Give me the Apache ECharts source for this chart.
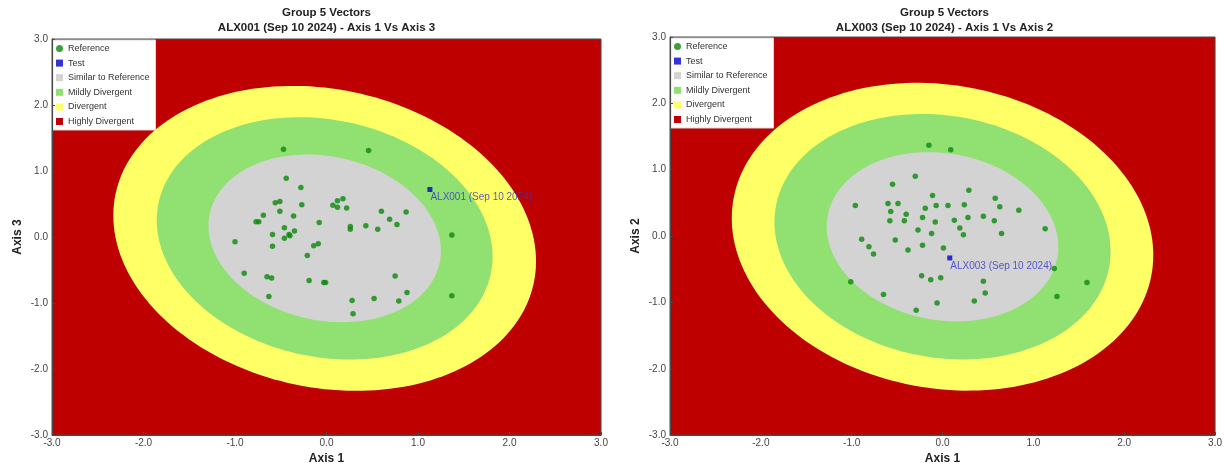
<!DOCTYPE html>
<html><head><meta charset="utf-8">
<script src="https://cdn.jsdelivr.net/npm/echarts@6/dist/echarts.min.js"></script>
<style>html,body{margin:0;padding:0;background:#fff;overflow:hidden}#c{width:1225px;height:470px}</style>
</head><body><div id="c"></div>
<script>
// ---- data ----
const tickValues = [-3, -2, -1, 0, 1, 2, 3];
const zoneNames = ['Similar to Reference', 'Mildly Divergent', 'Divergent', 'Highly Divergent'];

const leftTitle = ['Group 5 Vectors', 'ALX001 (Sep 10 2024) - Axis 1 Vs Axis 3'];
const leftAxisNames = ['Axis 1', 'Axis 3'];
const leftRefAxis1 = [-0.47, 0.46, -0.44, -0.28, -0.56, -0.51, -0.51, -0.27, -0.69, -0.36, -0.77, -0.74, -0.08, -0.46, -0.35, -0.41, -0.40, -0.59, -0.46, -1.00, -0.59, -0.09, -0.14, -0.21, -0.90, -0.65, -0.60, -0.19, -0.03, -0.01, -0.63, 0.12, 0.18, 0.07, 0.12, 0.22, 0.60, 0.87, 0.69, 0.77, 0.26, 0.26, 0.43, 0.56, 1.37, 0.75, 0.88, 0.79, 0.52, 0.28, 0.29, 1.37];
const leftRefAxis3 = [1.33, 1.31, 0.89, 0.75, 0.52, 0.54, 0.39, 0.49, 0.33, 0.32, 0.23, 0.23, 0.22, 0.14, 0.09, 0.04, 0.02, 0.04, -0.02, -0.07, -0.14, -0.10, -0.13, -0.28, -0.55, -0.60, -0.62, -0.66, -0.69, -0.69, -0.90, 0.55, 0.58, 0.48, 0.45, 0.44, 0.39, 0.38, 0.27, 0.19, 0.16, 0.12, 0.17, 0.12, 0.03, -0.59, -0.84, -0.97, -0.93, -0.96, -1.16, -0.89];
const leftTestPoint = [1.13, 0.72];
const leftTestName = 'ALX001 (Sep 10 2024)';
const leftZoneRadii = [1.27, 1.835, 2.31];
const leftZoneCenter = [-0.02, -0.02];
const leftZoneCorr = -0.15;

const rightTitle = ['Group 5 Vectors', 'ALX003 (Sep 10 2024) - Axis 1 Vs Axis 2'];
const rightAxisNames = ['Axis 1', 'Axis 2'];
const rightRefAxis1 = [-0.15, 0.09, -0.30, -0.55, -0.11, 0.29, -0.96, -0.60, -0.49, -0.57, -0.40, -0.19, -0.07, 0.06, 0.24, 0.58, 0.63, 0.84, -0.58, -0.42, -0.22, -0.08, 0.13, 0.28, 0.45, 0.57, -0.27, -0.12, 0.19, 0.23, 0.65, 1.13, -0.89, -0.52, -0.81, -0.76, -0.38, -0.22, 0.01, 1.23, -0.23, -0.13, -0.02, 0.45, -1.01, -0.65, -0.06, -0.29, 0.47, 0.35, 1.59, 1.26];
const rightRefAxis2 = [1.37, 1.30, 0.90, 0.78, 0.61, 0.69, 0.46, 0.49, 0.49, 0.37, 0.33, 0.42, 0.46, 0.46, 0.47, 0.57, 0.44, 0.39, 0.23, 0.23, 0.28, 0.21, 0.24, 0.28, 0.30, 0.23, 0.09, 0.04, 0.12, 0.02, 0.04, 0.11, -0.05, -0.06, -0.16, -0.27, -0.21, -0.14, -0.18, -0.49, -0.60, -0.66, -0.63, -0.68, -0.69, -0.88, -1.01, -1.12, -0.86, -0.98, -0.70, -0.91];
const rightTestPoint = [0.08, -0.33];
const rightTestName = 'ALX003 (Sep 10 2024)';
const rightZoneRadii = [1.275, 1.85, 2.32];
const rightZoneCenter = [0, -0.01];
const rightZoneCorr = -0.12;

// ---- styles ----
const FONT = '"Liberation Sans", Arial, sans-serif';
const COLORS = {
  ref: '#0a8a0a', test: '#0000cc',
  'Similar to Reference': '#d3d3d3', 'Mildly Divergent': '#90e072',
  'Divergent': '#ffff66', 'Highly Divergent': '#be0000'
};

function ellipseRender(params, api) {
  const r = api.value(0), cx = api.value(1), cy = api.value(2), rho = api.value(3);
  const s = Math.sqrt(1 - rho * rho);
  const pts = [];
  for (let i = 0; i < 180; i++) {
    const t = i / 180 * Math.PI * 2;
    pts.push(api.coord([cx + r * Math.cos(t), cy + r * (rho * Math.cos(t) + s * Math.sin(t))]));
  }
  return { type: 'polygon', shape: { points: pts }, style: { fill: api.visual('color') } };
}
function rectRender(params, api) {
  const p0 = api.coord([tickValues[0], tickValues[tickValues.length - 1]]);
  const p1 = api.coord([tickValues[tickValues.length - 1], tickValues[0]]);
  return { type: 'rect', shape: { x: p0[0], y: p0[1], width: p1[0] - p0[0], height: p1[1] - p0[1] },
    style: { fill: api.visual('color'), stroke: '#4a4a4a', lineWidth: 1 } };
}

const grids = [
  { left: 52, top: 39, width: 549, height: 398 },
  { left: 670, top: 37, width: 549, height: 399 }
];
const panels = [
  { title: leftTitle, names: leftAxisNames, xs: leftRefAxis1, ys: leftRefAxis3, test: leftTestPoint, testName: leftTestName,
    radii: leftZoneRadii, center: leftZoneCenter, corr: leftZoneCorr },
  { title: rightTitle, names: rightAxisNames, xs: rightRefAxis1, ys: rightRefAxis2, test: rightTestPoint, testName: rightTestName,
    radii: rightZoneRadii, center: rightZoneCenter, corr: rightZoneCorr }
];

const option = { animation: false, textStyle: { fontFamily: FONT }, title: [], grid: [], xAxis: [], yAxis: [], legend: [], series: [] };

panels.forEach((p, i) => {
  const g = grids[i];
  option.grid.push(Object.assign({ containLabel: false }, g));
  option.title.push({
    text: p.title.join('\n'), left: g.left + g.width / 2, textAlign: 'center', top: 5, padding: 0,
    textStyle: { fontSize: 11.5, fontWeight: 'bold', color: '#222', lineHeight: 15, fontFamily: FONT }
  });
  const axisCommon = {
    gridIndex: i, type: 'value', min: tickValues[0], max: tickValues[tickValues.length - 1], interval: 1, z: 10,
    splitLine: { show: false },
    axisLine: { show: true, onZero: false, lineStyle: { color: '#4a4a4a', width: 1 } },
    axisTick: { show: true, inside: true, length: 3, lineStyle: { color: '#4a4a4a' } },
    axisLabel: { formatter: v => v.toFixed(1), fontSize: 10, color: '#444', fontFamily: FONT },
    nameLocation: 'middle',
    nameTextStyle: { fontSize: 12, fontWeight: 'bold', color: '#222', fontFamily: FONT }
  };
  option.xAxis.push(Object.assign({}, axisCommon, { name: p.names[0], nameGap: 16, position: 'bottom',
    axisLabel: Object.assign({}, axisCommon.axisLabel, { margin: 3 }) }));
  option.yAxis.push(Object.assign({}, axisCommon, { name: p.names[1], nameGap: 28, position: 'left',
    axisLabel: Object.assign({}, axisCommon.axisLabel, { margin: 4 }) }));

  const legendItems = [
    { name: 'Reference', icon: 'circle', itemStyle: { color: COLORS.ref } },
    { name: 'Test', icon: 'rect', itemStyle: { color: COLORS.test } }
  ].concat(zoneNames.map(n => ({ name: n, icon: 'rect', itemStyle: { color: COLORS[n] } })));
  option.legend.push({
    data: legendItems, orient: 'vertical', left: g.left + 1, top: g.top + 1,
    backgroundColor: '#fff', borderColor: '#d8d8d8', borderWidth: 1, padding: [3, 6, 3, 3],
    itemWidth: 7, itemHeight: 7, itemGap: 3.6, selectedMode: false,
    textStyle: { fontSize: 9, color: '#333', lineHeight: 11, fontFamily: FONT }
  });

  // zones: outermost first
  option.series.push({ name: 'Highly Divergent', type: 'custom', xAxisIndex: i, yAxisIndex: i, silent: true,
    itemStyle: { color: COLORS['Highly Divergent'] }, renderItem: rectRender, data: [[0, 0]] });
  [2, 1, 0].forEach(k => {
    option.series.push({ name: zoneNames[k], type: 'custom', xAxisIndex: i, yAxisIndex: i, silent: true,
      itemStyle: { color: COLORS[zoneNames[k]] }, renderItem: ellipseRender,
      encode: { x: 1, y: 2 },
      data: [[p.radii[k], p.center[0], p.center[1], p.corr]] });
  });
  option.series.push({ name: 'Reference', type: 'scatter', xAxisIndex: i, yAxisIndex: i, symbol: 'circle', symbolSize: 5.5,
    itemStyle: { color: COLORS.ref }, data: p.xs.map((x, j) => [x, p.ys[j]]) });
  option.series.push({ name: 'Test', type: 'scatter', xAxisIndex: i, yAxisIndex: i, symbol: 'rect', symbolSize: 5,
    itemStyle: { color: COLORS.test },
    label: { show: true, formatter: p.testName, position: 'right', distance: 0, offset: [-2, 8],
      fontSize: 10, color: '#3535c8', fontFamily: FONT },
    data: [p.test] });
});

const chart = echarts.init(document.getElementById('c'), null, { renderer: 'canvas' });
chart.setOption(option);
</script>
</body></html>
